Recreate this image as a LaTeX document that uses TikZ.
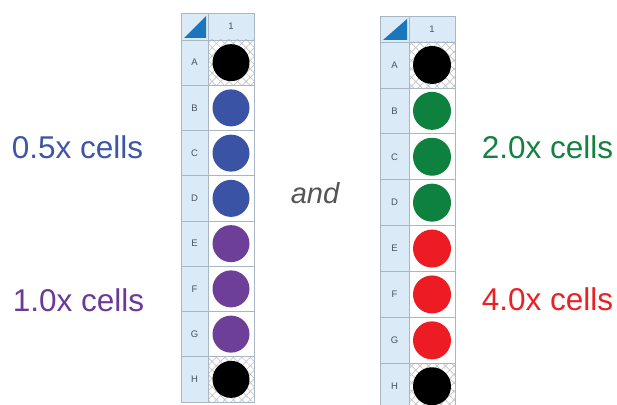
\documentclass[tikz,border=0pt]{standalone}
\usepackage{fontspec}
\setmainfont{Liberation Sans}
\usetikzlibrary{patterns.meta}
\definecolor{gridc}{HTML}{A9B7C4}
\definecolor{hdrc}{HTML}{DAEAF7}
\definecolor{tric}{HTML}{1C76BE}
\definecolor{lblc}{HTML}{4A5263}
\definecolor{hatchc}{HTML}{C4C4C4}
\definecolor{cblue}{HTML}{3A53A4}
\definecolor{cpurple}{HTML}{6E3F99}
\definecolor{cgreen}{HTML}{0E813E}
\definecolor{cred}{HTML}{ED1C24}
\definecolor{tblue}{HTML}{3F55A5}
\definecolor{tpurple}{HTML}{6A3A99}
\definecolor{tgreen}{HTML}{148140}
\definecolor{tred}{HTML}{EA2027}
\definecolor{andc}{HTML}{555555}
\tikzset{
  hdr/.style={draw=gridc, fill=hdrc, line width=0.8},
  datacell/.style={draw=gridc, line width=0.8},
  well/.style={circle, inner sep=0pt},
  lbl/.style={font=\fontsize{9.5}{9.5}\selectfont, text=lblc},
  bigtext/.style={font=\fontsize{31.5}{31.5}\selectfont},
  hatchA/.style={pattern={Lines[angle=45,distance=6pt,line width=0.7pt]}, pattern color=hatchc},
  hatchB/.style={pattern={Lines[angle=-45,distance=6pt,line width=0.7pt]}, pattern color=hatchc},
}
% #1 x0, #2 y0, #3 header w, #4 header h, #5 data w, #6 row h, #7 circle size, #8 list, #9 name
\newcommand\drawplate[9]{%
  \pgfmathsetmacro\pxa{#1+#3}%
  \pgfmathsetmacro\pxb{#1+#3+#5}%
  \pgfmathsetmacro\pya{#2+#4}%
  \pgfmathsetmacro\pxm{(\pxa+\pxb)/2}%
  \pgfmathsetmacro\pym{(#2+\pya)/2}%
  \pgfmathsetmacro\pxh{#1+#3/2}%
  \draw[hdr] (#1,#2) rectangle (\pxa,\pya);
  \draw[hdr] (\pxa,#2) rectangle (\pxb,\pya);
  \fill[tric] ({#1+3},{\pya-2}) -- ({\pxa-2},{#2+3}) -- ({\pxa-2},{\pya-2}) -- cycle;
  \node[lbl] (#9-col) at (\pxm,\pym) {1};
  \foreach \r/\c/\h [count=\i from 0] in {#8} {
    \pgfmathsetmacro\yt{\pya+\i*#6}
    \pgfmathsetmacro\yb{\yt+#6}
    \pgfmathsetmacro\ym{\yt+#6/2}
    \draw[hdr] (#1,\yt) rectangle (\pxa,\yb);
    \node[lbl] (#9-lbl-\r) at (\pxh,\ym) {\r};
    \fill[white] (\pxa,\yt) rectangle (\pxb,\yb);
    \ifnum\h=1
      \fill[hatchA] (\pxa,\yt) rectangle (\pxb,\yb);
      \fill[hatchB] (\pxa,\yt) rectangle (\pxb,\yb);
    \fi
    \draw[datacell] (\pxa,\yt) rectangle (\pxb,\yb);
    \node[well, fill=\c, minimum size=#7] (#9-\r) at (\pxm,\ym) {};
  }
}
\begin{document}
\begin{tikzpicture}[x=1pt,y=-1pt]
  \useasboundingbox (0,0) rectangle (617,404);
  \drawplate{181}{13}{27}{27}{46}{45.25}{37}{A/black/1,B/cblue/0,C/cblue/0,D/cblue/0,E/cpurple/0,F/cpurple/0,G/cpurple/0,H/black/1}{L}
  \drawplate{380}{16}{29}{26}{46}{45.9}{38}{A/black/1,B/cgreen/0,C/cgreen/0,D/cgreen/0,E/cred/0,F/cred/0,G/cred/0,H/black/1}{R}
  \node[bigtext, text=tblue] (t05) at (77.5,147) {0.5x cells};
  \node[bigtext, text=tpurple] (t10) at (78.5,300) {1.0x cells};
  \node[bigtext, text=tgreen] (t20) at (547.5,147) {2.0x cells};
  \node[bigtext, text=tred] (t40) at (547.5,299) {4.0x cells};
  \node[font=\itshape\fontsize{29}{29}\selectfont, text=andc] (and) at (315,193) {and};
\end{tikzpicture}
\end{document}
